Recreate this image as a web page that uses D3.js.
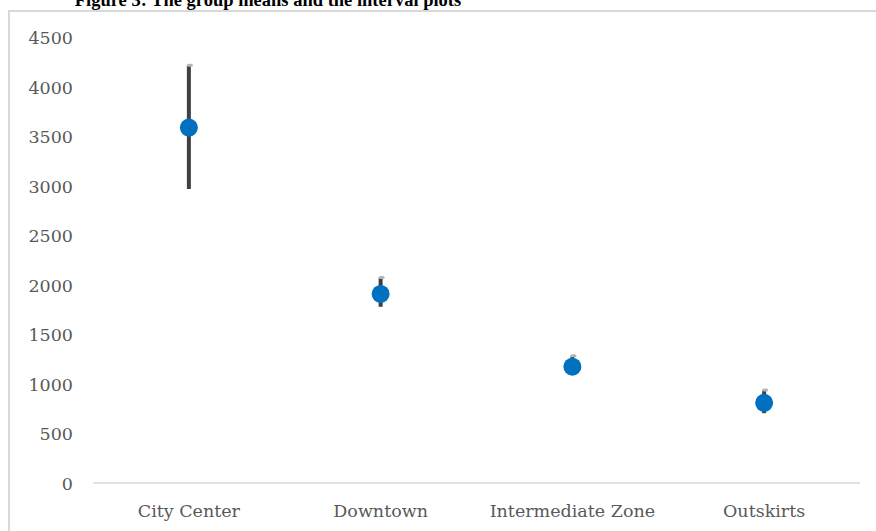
<!DOCTYPE html>
<html><head><meta charset="utf-8">
<script src="https://cdn.jsdelivr.net/npm/d3@7"></script>
<style>body{margin:0;background:#fff}svg{display:block}</style>
</head><body>
<svg id="c" width="876" height="531"></svg>
<script>
const categories = ["City Center", "Downtown", "Intermediate Zone", "Outskirts"];
const means = [3590, 1910, 1175, 810];
const upper = [4215, 2070, 1280, 935];
const lower = [2970, 1780, 1120, 705];
const yTicks = [0, 500, 1000, 1500, 2000, 2500, 3000, 3500, 4000, 4500];
const title = "Figure 3: The group means and the interval plots";

(function(){
const svg = d3.select("#c");
const W = 876, H = 531;
const mLeft = 93, mRight = 860, mTop = 37.5, mBottom = 483;

// frame
svg.append("path").attr("d", `M9,${H} L9,11 L${W},11`).attr("fill","none")
  .attr("stroke","#d9d9d9").attr("stroke-width",2);

svg.append("text").attr("x", 268).attr("y", 6).attr("text-anchor","middle")
  .attr("font-family","Liberation Serif").attr("font-weight","bold")
  .attr("font-size", 18.5).attr("fill","#000").text(title);

const x = d3.scaleBand().domain(categories).range([mLeft, mRight]);
const y = d3.scaleLinear().domain([0, 4500]).range([mBottom, mTop]);

// baseline
svg.append("line").attr("x1", mLeft).attr("x2", mRight).attr("y1", y(0)).attr("y2", y(0))
  .attr("stroke","#d9d9d9").attr("stroke-width",1.5);

// y axis
const yAxis = d3.axisLeft(y).tickValues(yTicks).tickFormat(d3.format("d")).tickSize(0).tickPadding(0);
const gy = svg.append("g").attr("transform","translate(73,0)").call(yAxis);
gy.select(".domain").remove();
gy.selectAll("text").attr("font-family","DejaVu Serif").attr("font-size",17.5)
  .attr("fill","#595959").attr("dy","0.36em");

// x axis
const xAxis = d3.axisBottom(x).tickSize(0).tickPadding(0);
const gx = svg.append("g").attr("transform",`translate(0,517)`).call(xAxis);
gx.select(".domain").remove();
gx.selectAll("text").attr("font-family","DejaVu Serif").attr("font-size",17.5)
  .attr("fill","#595959").attr("dy","0");

const cx = d => x(d) + x.bandwidth()/2;

// error bars
svg.append("g").selectAll("line").data(categories).join("line")
  .attr("x1", cx).attr("x2", cx)
  .attr("y1", (d,i) => y(upper[i])).attr("y2", (d,i) => y(lower[i]))
  .attr("stroke","#404040").attr("stroke-width",4);

// caps
svg.append("g").selectAll("rect").data(categories).join("rect")
  .attr("x", d => cx(d) - 2).attr("y", (d,i) => y(upper[i]) - 2)
  .attr("width", 6).attr("height", 3).attr("rx", 1.5)
  .attr("fill","#b5b5b5");

// means
svg.append("g").selectAll("circle").data(categories).join("circle")
  .attr("cx", cx).attr("cy", (d,i) => y(means[i])).attr("r", 9)
  .attr("fill","#0070c0");
})();
</script>
</body></html>
